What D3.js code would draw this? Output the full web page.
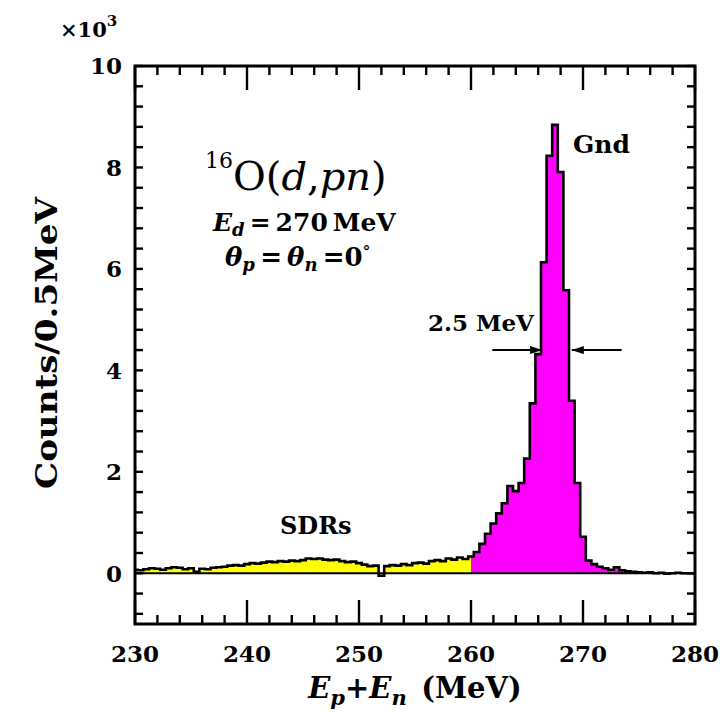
<!DOCTYPE html>
<html>
<head>
<meta charset="utf-8">
<script src="https://cdn.jsdelivr.net/npm/d3@7"></script>
<style>
  html, body { margin: 0; padding: 0; background: #fff; }
  svg { display: block; }
  text { font-family: "DejaVu Serif", "Liberation Serif", serif; fill: #000; }
</style>
</head>
<body>
<svg id="chart" width="722" height="712"></svg>
<script>
// Histogram: counts per 0.5 MeV bin (units of 10^3), bins centred on 230.0 ... 280.0 MeV
const binWidth = 0.5;
const firstBinCenter = 230.0;
const counts = [
  0.07, 0.06, 0.08, 0.10, 0.09, 0.07, 0.10, 0.12, 0.11, 0.08,   // 230.0 - 234.5
  0.10, 0.03, 0.09, 0.08, 0.11, 0.12, 0.13, 0.15, 0.16, 0.15,   // 235.0 - 239.5
  0.18, 0.20, 0.19, 0.21, 0.23, 0.22, 0.24, 0.23, 0.25, 0.24,   // 240.0 - 244.5
  0.26, 0.29, 0.28, 0.29, 0.27, 0.26, 0.27, 0.24, 0.22, 0.23,   // 245.0 - 249.5
  0.20, 0.17, 0.14, 0.15, -0.05, 0.14, 0.16, 0.15, 0.18, 0.16,  // 250.0 - 254.5
  0.20, 0.21, 0.19, 0.24, 0.26, 0.24, 0.29, 0.27, 0.31, 0.28,   // 255.0 - 259.5
  0.33, 0.42, 0.58, 0.78, 0.98, 1.18, 1.38, 1.72, 1.62, 1.78,   // 260.0 - 264.5
  2.26, 3.35, 4.32, 6.13, 8.23, 8.84, 7.91, 5.58, 3.40, 1.78,   // 265.0 - 269.5
  0.72, 0.25, 0.18, 0.13, 0.10, 0.07, 0.12, 0.06, 0.04, 0.03,   // 270.0 - 274.5
  0.02, 0.01, 0.02, 0.00, 0.01, -0.01, 0.00, 0.01, 0.00, 0.00,  // 275.0 - 279.5
  0.00                                                          // 280.0
];

// Regions: spin-dipole resonances below 260 MeV, ground state above
const regionSplit = 260;
const regionColors = { sdr: "#ffff00", gnd: "#ff00ff" };

// Axes
const xDomain = [230, 280];
const yDomain = [-1, 10];
const xTickLabels = [230, 240, 250, 260, 270, 280];
const yTickLabels = [0, 2, 4, 6, 8, 10];
const xMinorStep = 2;
const yMinorStep = 0.4;

// Full width at half maximum marker
const fwhmLeft = 266.35, fwhmRight = 269.0, fwhmLevel = 4.4;
const fwhmArrowTailLeft = 261.9, fwhmArrowTailRight = 273.45;

const svg = d3.select("#chart");
const plot = { left: 135, right: 695, top: 66, bottom: 624 };

const x = d3.scaleLinear().domain(xDomain).range([plot.left, plot.right]);
const y = d3.scaleLinear().domain(yDomain).range([plot.bottom, plot.top]);

// Bin edges with step values
const steps = counts.map((v, i) => ({ e: firstBinCenter + i * binWidth - binWidth / 2, v }));
steps.push({ e: firstBinCenter + (counts.length - 1) * binWidth + binWidth / 2, v: counts[counts.length - 1] });

const defs = svg.append("defs");
defs.append("clipPath").attr("id", "clipAll").append("rect")
  .attr("x", plot.left).attr("y", plot.top)
  .attr("width", plot.right - plot.left).attr("height", plot.bottom - plot.top);
defs.append("clipPath").attr("id", "clipSdr").append("rect")
  .attr("x", plot.left).attr("y", plot.top)
  .attr("width", x(regionSplit) - plot.left).attr("height", plot.bottom - plot.top);
defs.append("clipPath").attr("id", "clipGnd").append("rect")
  .attr("x", x(regionSplit)).attr("y", plot.top)
  .attr("width", plot.right - x(regionSplit)).attr("height", plot.bottom - plot.top);

const area = d3.area().curve(d3.curveStepAfter)
  .x(d => x(d.e)).y0(y(0)).y1(d => y(d.v));
const line = d3.line().curve(d3.curveStepAfter)
  .x(d => x(d.e)).y(d => y(d.v));

svg.append("path").datum(steps).attr("d", area)
  .attr("fill", regionColors.sdr).attr("clip-path", "url(#clipSdr)");
svg.append("path").datum(steps).attr("d", area)
  .attr("fill", regionColors.gnd).attr("clip-path", "url(#clipGnd)");

// zero line
svg.append("line")
  .attr("x1", plot.left).attr("x2", plot.right)
  .attr("y1", y(0)).attr("y2", y(0))
  .attr("stroke", "#000").attr("stroke-width", 2.2);

svg.append("path").datum(steps).attr("d", line)
  .attr("fill", "none").attr("stroke", "#000").attr("stroke-width", 2.6)
  .attr("stroke-linejoin", "miter").attr("clip-path", "url(#clipAll)");

// Frame ticks (inward on all four sides)
const xMinor = d3.range(xDomain[0], xDomain[1] + 0.001, xMinorStep);
const yMinor = d3.range(-0.8, yDomain[1] + 0.001, yMinorStep).map(v => +v.toFixed(2));
const tickG = svg.append("g").attr("stroke", "#000").attr("stroke-width", 2.4);
xMinor.forEach(v => {
  const len = xTickLabels.includes(Math.round(v)) ? 24 : 9;
  tickG.append("line").attr("x1", x(v)).attr("x2", x(v)).attr("y1", plot.bottom).attr("y2", plot.bottom - len);
  tickG.append("line").attr("x1", x(v)).attr("x2", x(v)).attr("y1", plot.top).attr("y2", plot.top + len);
});
yMinor.forEach(v => {
  tickG.append("line").attr("x1", plot.left).attr("x2", plot.left + 8).attr("y1", y(v)).attr("y2", y(v));
  tickG.append("line").attr("x1", plot.right).attr("x2", plot.right - 8).attr("y1", y(v)).attr("y2", y(v));
});

svg.append("rect")
  .attr("x", plot.left).attr("y", plot.top)
  .attr("width", plot.right - plot.left).attr("height", plot.bottom - plot.top)
  .attr("fill", "none").attr("stroke", "#000").attr("stroke-width", 3);

// Tick labels
svg.append("g").selectAll("text").data(xTickLabels).join("text")
  .attr("x", d => x(d)).attr("y", 662)
  .attr("text-anchor", "middle").attr("font-size", 23).attr("font-weight", "bold")
  .text(d => d);
svg.append("g").selectAll("text").data(yTickLabels).join("text")
  .attr("x", 122).attr("y", d => y(d)).attr("dy", "0.36em")
  .attr("text-anchor", "end").attr("font-size", 23).attr("font-weight", "bold")
  .text(d => d);

// Multiplier
const mult = svg.append("text").attr("x", 60).attr("y", 37)
  .attr("font-size", 21).attr("font-weight", "bold");
mult.append("tspan").text("×10");
mult.append("tspan").attr("font-size", 15).attr("dy", -11).text("3");

// Axis titles
svg.append("text")
  .attr("transform", "translate(57,343) rotate(-90)")
  .attr("text-anchor", "middle").attr("font-size", 30).attr("font-weight", "bold")
  .attr("textLength", 292).attr("lengthAdjust", "spacingAndGlyphs")
  .text("Counts/0.5MeV");

const xt = svg.append("text").attr("x", 415).attr("y", 698)
  .attr("text-anchor", "middle").attr("font-size", 29).attr("font-weight", "bold");
xt.append("tspan").attr("font-style", "italic").text("E");
xt.append("tspan").attr("font-style", "italic").attr("font-size", 21).attr("dy", 7).text("p");
xt.append("tspan").attr("dy", -7).text("+");
xt.append("tspan").attr("font-style", "italic").text("E");
xt.append("tspan").attr("font-style", "italic").attr("font-size", 21).attr("dy", 7).text("n");
xt.append("tspan").attr("dy", -7).text("\u2002(MeV)");

// Reaction label
const r = svg.append("text").attr("x", 205).attr("y", 190).attr("font-size", 40);
r.append("tspan").attr("font-size", 22).attr("dy", -22).text("16");
r.append("tspan").attr("dy", 22).text("O(");
r.append("tspan").attr("font-style", "italic").text("d");
r.append("tspan").text(",");
r.append("tspan").attr("font-style", "italic").text("pn");
r.append("tspan").text(")");

const ed = svg.append("text").attr("x", 213).attr("y", 231)
  .attr("font-size", 25).attr("font-weight", "bold");
ed.append("tspan").attr("font-style", "italic").text("E");
ed.append("tspan").attr("font-style", "italic").attr("font-size", 18).attr("dy", 5).text("d");
ed.append("tspan").attr("dy", -5).text("\u2009=\u2009270\u2009MeV");

const th = svg.append("text").attr("x", 225).attr("y", 266)
  .attr("font-size", 26).attr("font-weight", "bold");
th.append("tspan").attr("font-style", "italic").text("θ");
th.append("tspan").attr("font-style", "italic").attr("font-size", 18).attr("dy", 5).text("p");
th.append("tspan").attr("dy", -5).text("\u2009=\u2009");
th.append("tspan").attr("font-style", "italic").text("θ");
th.append("tspan").attr("font-style", "italic").attr("font-size", 18).attr("dy", 5).text("n");
th.append("tspan").attr("dy", -5).text("\u2009=0");
th.append("tspan").attr("font-size", 15).attr("dy", -9).text("°");

svg.append("text").attr("x", 573).attr("y", 153)
  .attr("font-size", 25).attr("font-weight", "bold").text("Gnd");
svg.append("text").attr("x", 280).attr("y", 534)
  .attr("font-size", 24).attr("font-weight", "bold").text("SDRs");
svg.append("text").attr("x", 428).attr("y", 331)
  .attr("font-size", 23).attr("font-weight", "bold").text("2.5 MeV");

// FWHM arrows
defs.append("marker").attr("id", "arrowHead")
  .attr("viewBox", "0 0 12 8").attr("refX", 12).attr("refY", 4)
  .attr("markerWidth", 12).attr("markerHeight", 8).attr("markerUnits", "userSpaceOnUse")
  .attr("orient", "auto")
  .append("path").attr("d", "M0,0 L12,4 L0,8 Z").attr("fill", "#000");
[[fwhmArrowTailLeft, fwhmLeft], [fwhmArrowTailRight, fwhmRight]].forEach(([from, to]) => {
  svg.append("line")
    .attr("x1", x(from)).attr("x2", x(to))
    .attr("y1", y(fwhmLevel)).attr("y2", y(fwhmLevel))
    .attr("stroke", "#000").attr("stroke-width", 2)
    .attr("marker-end", "url(#arrowHead)");
});
</script>
</body>
</html>
